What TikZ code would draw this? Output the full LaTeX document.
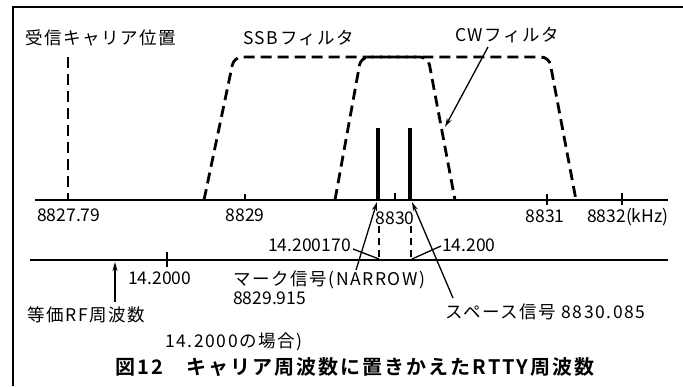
\documentclass[tikz,border=0pt]{standalone}
\usepackage{fontspec}
\setmainfont{Noto Sans CJK JP}
\newfontfamily\jpfont{Noto Sans CJK JP}[LetterSpace=9]
\newfontfamily\titlefont{Noto Sans CJK JP Bold}[LetterSpace=10]
\usetikzlibrary{arrows.meta}
\begin{document}
\begin{tikzpicture}[x=1pt,y=-1pt,
  lbl/.style={inner sep=0pt, anchor=base west, font=\fontsize{17.5}{20}\selectfont},
  jlbl/.style={inner sep=0pt, anchor=base west, font=\fontsize{17.5}{20}\selectfont\jpfont},
  ttl/.style={inner sep=0pt, anchor=base west, font=\fontsize{20}{23}\selectfont\titlefont},
  axisline/.style={line width=2.3pt},
  filt/.style={line width=2.8pt, dash pattern=on 11pt off 6pt, rounded corners=8pt},
  rcline/.style={line width=2.8pt, dash pattern=on 11pt off 6pt},
  sig/.style={line width=3.3pt},
  proj/.style={line width=1.5pt, dash pattern=on 7pt off 5pt},
  lead/.style={line width=1.3pt},
  arr/.style={line width=1.3pt, -{Stealth[length=9pt,width=5pt]}},
  tickmark/.style={line width=1.5pt},
  frame/.style={line width=2.2pt}]
\useasboundingbox (0,0) rectangle (683,386);
% frame
\coordinate (f0) at (13,386); \coordinate (f1) at (13,7); \coordinate (f2) at (683,7);
\draw[frame] (f0) -- (f1) -- (f2);
% axis 1
\coordinate (a1l) at (35,200); \coordinate (a1r) at (668,200);
\draw[axisline] (a1l) -- (a1r);
% receiver carrier
\coordinate (rc0) at (68,57); \coordinate (rc1) at (68,200);
\draw[rcline] (rc0) -- (rc1);
% filters
\coordinate (s1) at (204,200); \coordinate (s2) at (234,57);
\coordinate (s3) at (428,57); \coordinate (s4) at (455,200);
\draw[filt] (s1) -- (s2) -- (s3) -- (s4);
\coordinate (c1) at (335,200); \coordinate (c2) at (361,57);
\coordinate (c3) at (549,57); \coordinate (c4) at (576,200);
\draw[filt] (c1) -- (c2) -- (c3) -- (c4);
% signals
\coordinate (m0) at (378,128); \coordinate (m1) at (378,200);
\coordinate (p0) at (410,128); \coordinate (p1) at (410,200);
\draw[sig] (m0) -- (m1);
\draw[sig] (p0) -- (p1);
% ticks axis 1
\coordinate (k1a) at (245,194); \coordinate (k1b) at (245,200);
\coordinate (k2a) at (395,193); \coordinate (k2b) at (395,200);
\coordinate (k3a) at (547,194); \coordinate (k3b) at (547,205);
\coordinate (k4a) at (622,193); \coordinate (k4b) at (622,205);
\draw[tickmark] (k1a) -- (k1b);
\draw[tickmark] (k2a) -- (k2b);
\draw[tickmark] (k3a) -- (k3b);
\draw[tickmark] (k4a) -- (k4b);
% projections
\coordinate (d1a) at (379,226); \coordinate (d1b) at (379,259);
\coordinate (d2a) at (411,226); \coordinate (d2b) at (411,259);
\draw[proj] (d1a) -- (d1b);
\draw[proj] (d2a) -- (d2b);
% axis 2
\coordinate (a2l) at (30,260); \coordinate (a2r) at (668,260);
\draw[axisline] (a2l) -- (a2r);
\coordinate (k5a) at (167,252); \coordinate (k5b) at (167,267);
\draw[tickmark] (k5a) -- (k5b);
% labels
\node[jlbl] (rcl) at (25,44) {受信キャリア位置};
\node[jlbl] (ssbl) at (243,44) {SSBフィルタ};
\node[jlbl] (cwl) at (455,41) {CWフィルタ};
\node[lbl] (n1) at (37,221) {8827.79};
\node[lbl, anchor=base] (n2) at (245,221) {8829};
\node[lbl, anchor=base] (n3) at (395,224) {8830};
\node[lbl, anchor=base] (n4) at (545,222) {8831};
\node[lbl] (n5) at (587,222) {8832(kHz)};
\node[lbl] (f170) at (268,251) {14.200170};
\node[lbl] (f200) at (442,251) {14.200};
\node[lbl] (f2000) at (128,284) {14.2000};
\node[jlbl] (mark) at (233,285) {マーク信号(NARROW)};
\node[lbl] (markf) at (233,304) {8829.915};
\node[jlbl] (rf) at (27,321) {等価RF周波数};
\node[jlbl] (case) at (165,347) {14.2000の場合)};
\node[jlbl] (space) at (445,318) {スペース信号 8830.085};
\node[ttl] (title) at (115,374) {図12　キャリア周波数に置きかえたRTTY周波数};
% leaders and arrows
\coordinate (l1a) at (353,249); \coordinate (l1b) at (379,259);
\coordinate (l2a) at (441,246); \coordinate (l2b) at (412,259);
\draw[lead] (l1a) -- (l1b);
\draw[lead] (l2a) -- (l2b);
\coordinate (ma) at (356,270); \coordinate (mb) at (377,202);
\draw[arr] (ma) -- (mb);
\coordinate (sa) at (453,298); \coordinate (sb) at (412,202);
\draw[arr] (sa) -- (sb);
\coordinate (cwa) at (488,47); \coordinate (cwb) at (445,127);
\draw[arr] (cwa) -- (cwb);
\coordinate (rfa) at (115,302); \coordinate (rfb) at (115,262);
\draw[arr] (rfa) -- (rfb);
\end{tikzpicture}
\end{document}
